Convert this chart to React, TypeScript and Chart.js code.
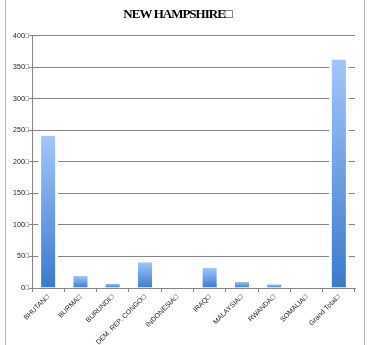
import React, { useEffect, useRef } from "react";
import { Chart, registerables } from "chart.js";

Chart.register(...registerables);

const TITLE = "NEW HAMPSHIRE\u25A1";
const categories = [
  "BHUTAN\u25A1",
  "BURMA\u25A1",
  "BURUNDI\u25A1",
  "DEM. REP. CONGO\u25A1",
  "INDONESIA\u25A1",
  "IRAQ\u25A1",
  "MALAYSIA\u25A1",
  "RWANDA\u25A1",
  "SOMALIA\u25A1",
  "Grand Total\u25A1",
];
const values = [241, 19, 7, 41, 0.6, 32, 10, 6, 1, 362];
const yMin = 0;
const yMax = 400;
const yStep = 50;
const yTickSuffix = "\u25A1";

const condensedTitle = {
  id: "condensedTitle",
  afterLayout(chart: any) {
    const tb = chart.titleBlock;
    if (!tb || tb.__patched) return;
    const orig = tb.draw.bind(tb);
    tb.draw = () => {
      const ctx = chart.ctx as any;
      const prev = ctx.letterSpacing;
      ctx.letterSpacing = "-1px";
      orig();
      ctx.letterSpacing = prev || "0px";
    };
    tb.__patched = true;
  },
};

export default function App() {
  const ref = useRef<HTMLCanvasElement | null>(null);

  useEffect(() => {
    if (!ref.current) return;
    const chart = new Chart(ref.current, {
      type: "bar",
      plugins: [condensedTitle],
      data: {
        labels: categories,
        datasets: [
          {
            data: values,
            backgroundColor: (c: any) => {
              const ch = c.chart;
              const area = ch.chartArea;
              const y = ch.scales && ch.scales.y;
              if (!area || !y || c.type !== "data") return "#6d9fe4";
              const top = y.getPixelForValue(c.raw);
              const bottom = y.getPixelForValue(0);
              if (bottom - top < 1) return "#a9c9f3";
              const g = ch.ctx.createLinearGradient(0, top, 0, bottom);
              g.addColorStop(0, "#a2c6f9");
              g.addColorStop(1, "#3b79cf");
              return g;
            },
            borderColor: "#ffffff",
            borderWidth: { left: 3, right: 3, top: 0, bottom: 0 },
            borderSkipped: false,
            barPercentage: 0.62,
            categoryPercentage: 1,
          },
        ],
      },
      options: {
        responsive: false,
        animation: false,
        layout: { padding: { left: 0, right: 12, top: 0, bottom: 0 } },
        plugins: {
          legend: { display: false },
          tooltip: { enabled: false },
          title: {
            display: true,
            text: TITLE,
            color: "#000000",
            font: { family: "'Liberation Serif', serif", size: 13, weight: "bold" },
            padding: { top: 7, bottom: 13 },
          },
        },
        scales: {
          x: {
            grid: {
              display: true,
              drawOnChartArea: false,
              drawTicks: true,
              tickLength: 4,
              color: "#858585",
              offset: true,
            },
            border: { display: true, color: "#858585", width: 1 },
            ticks: {
              autoSkip: false,
              maxRotation: 45,
              minRotation: 45,
              padding: 1,
              color: "#222222",
              font: { family: "'Liberation Sans', sans-serif", size: 7 },
            },
            afterFit: (s: any) => {
              s.height = 57;
            },
          },
          y: {
            min: yMin,
            max: yMax,
            grid: {
              color: "#858585",
              lineWidth: 1,
              tickLength: 3,
              drawTicks: true,
            },
            border: { display: true, color: "#858585", width: 1 },
            ticks: {
              stepSize: yStep,
              padding: 0,
              color: "#222222",
              font: { family: "'Liberation Sans', sans-serif", size: 7 },
              callback: (v: any) => String(v) + yTickSuffix,
            },
            afterFit: (s: any) => {
              s.width = 32;
            },
          },
        },
      },
    } as any);
    return () => chart.destroy();
  }, []);

  return (
    <div
      style={{
        position: "fixed",
        left: 0,
        top: 0,
        width: 367,
        height: 345,
        background: "#ffffff",
      }}
    >
      <div
        style={{
          position: "absolute",
          left: 5,
          top: 0,
          width: 358,
          height: 345,
          borderLeft: "1px solid #b4b4b4",
          borderRight: "1px solid #b4b4b4",
        }}
      />
      <canvas
        ref={ref}
        width={367}
        height={345}
        style={{ position: "absolute", left: 0, top: 0, width: 367, height: 345 }}
      />
    </div>
  );
}
